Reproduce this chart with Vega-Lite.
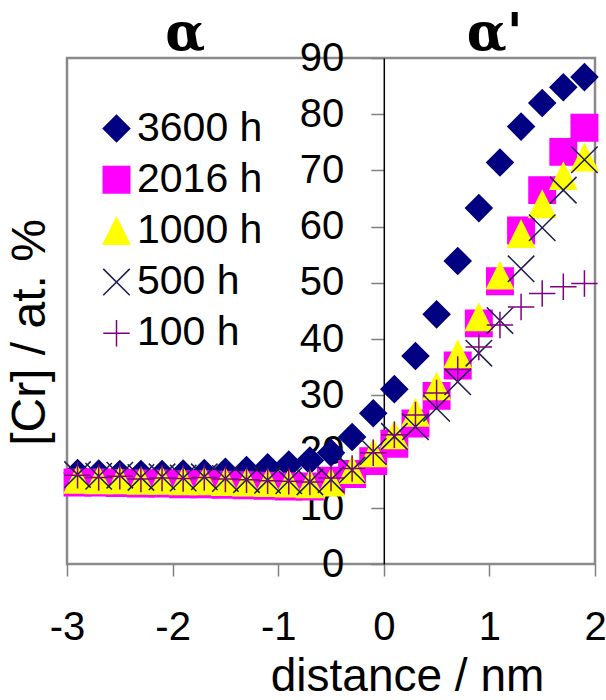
{
  "$schema": "https://vega.github.io/schema/vega-lite/v6.json",
  "width": 528,
  "height": 506,
  "autosize": {"type": "none"},
  "padding": {"left": 67, "top": 58, "right": 11, "bottom": 136},
  "background": "white",
  "config": {
    "view": {"stroke": "#8a8a8a", "strokeWidth": 2.5},
    "font": "Liberation Sans",
    "legend": {
      "orient": "none",
      "legendX": 29,
      "legendY": 50,
      "padding": 0,
      "labelFont": "Liberation Sans",
      "labelFontSize": 41,
      "labelColor": "black",
      "labelOffset": 0,
      "symbolSize": 700,
      "symbolStrokeWidth": 1.5,
      "rowPadding": 9.2,
      "labelLimit": 400
    }
  },
  "datasets": {
    "pts": [
      {"d": -2.9, "cr": 16.2, "t": "3600 h"}, {"d": -2.7, "cr": 16.1, "t": "3600 h"}, {"d": -2.5, "cr": 16.0, "t": "3600 h"}, {"d": -2.3, "cr": 16.0, "t": "3600 h"}, {"d": -2.1, "cr": 16.0, "t": "3600 h"},
      {"d": -1.9, "cr": 16.1, "t": "3600 h"}, {"d": -1.7, "cr": 16.2, "t": "3600 h"}, {"d": -1.5, "cr": 16.4, "t": "3600 h"}, {"d": -1.3, "cr": 16.7, "t": "3600 h"}, {"d": -1.1, "cr": 17.2, "t": "3600 h"},
      {"d": -0.9, "cr": 17.7, "t": "3600 h"}, {"d": -0.7, "cr": 18.4, "t": "3600 h"}, {"d": -0.5, "cr": 19.8, "t": "3600 h"}, {"d": -0.3, "cr": 22.6, "t": "3600 h"}, {"d": -0.1, "cr": 26.8, "t": "3600 h"},
      {"d": 0.1, "cr": 31.1, "t": "3600 h"}, {"d": 0.3, "cr": 37.0, "t": "3600 h"}, {"d": 0.5, "cr": 44.4, "t": "3600 h"}, {"d": 0.7, "cr": 53.9, "t": "3600 h"}, {"d": 0.9, "cr": 63.3, "t": "3600 h"},
      {"d": 1.1, "cr": 71.4, "t": "3600 h"}, {"d": 1.3, "cr": 77.8, "t": "3600 h"}, {"d": 1.5, "cr": 82.0, "t": "3600 h"}, {"d": 1.7, "cr": 84.8, "t": "3600 h"}, {"d": 1.9, "cr": 86.6, "t": "3600 h"},

      {"d": -2.9, "cr": 14.5, "t": "2016 h"}, {"d": -2.7, "cr": 14.5, "t": "2016 h"}, {"d": -2.5, "cr": 14.4, "t": "2016 h"}, {"d": -2.3, "cr": 14.3, "t": "2016 h"}, {"d": -2.1, "cr": 14.3, "t": "2016 h"},
      {"d": -1.9, "cr": 14.2, "t": "2016 h"}, {"d": -1.7, "cr": 14.2, "t": "2016 h"}, {"d": -1.5, "cr": 14.1, "t": "2016 h"}, {"d": -1.3, "cr": 14.0, "t": "2016 h"}, {"d": -1.1, "cr": 13.9, "t": "2016 h"},
      {"d": -0.9, "cr": 13.8, "t": "2016 h"}, {"d": -0.7, "cr": 13.8, "t": "2016 h"}, {"d": -0.5, "cr": 14.8, "t": "2016 h"}, {"d": -0.3, "cr": 16.0, "t": "2016 h"}, {"d": -0.1, "cr": 18.3, "t": "2016 h"},
      {"d": 0.1, "cr": 21.4, "t": "2016 h"}, {"d": 0.3, "cr": 25.0, "t": "2016 h"}, {"d": 0.5, "cr": 29.9, "t": "2016 h"}, {"d": 0.7, "cr": 35.3, "t": "2016 h"}, {"d": 0.9, "cr": 42.8, "t": "2016 h"},
      {"d": 1.1, "cr": 50.3, "t": "2016 h"}, {"d": 1.3, "cr": 59.3, "t": "2016 h"}, {"d": 1.5, "cr": 66.5, "t": "2016 h"}, {"d": 1.7, "cr": 73.3, "t": "2016 h"}, {"d": 1.9, "cr": 77.6, "t": "2016 h"},

      {"d": -2.9, "cr": 15.0, "t": "1000 h"}, {"d": -2.7, "cr": 14.9, "t": "1000 h"}, {"d": -2.5, "cr": 14.9, "t": "1000 h"}, {"d": -2.3, "cr": 14.8, "t": "1000 h"}, {"d": -2.1, "cr": 14.8, "t": "1000 h"},
      {"d": -1.9, "cr": 14.7, "t": "1000 h"}, {"d": -1.7, "cr": 14.7, "t": "1000 h"}, {"d": -1.5, "cr": 14.6, "t": "1000 h"}, {"d": -1.3, "cr": 14.5, "t": "1000 h"}, {"d": -1.1, "cr": 14.4, "t": "1000 h"},
      {"d": -0.9, "cr": 14.3, "t": "1000 h"}, {"d": -0.7, "cr": 14.2, "t": "1000 h"}, {"d": -0.5, "cr": 14.5, "t": "1000 h"}, {"d": -0.3, "cr": 16.7, "t": "1000 h"}, {"d": -0.1, "cr": 19.7, "t": "1000 h"},
      {"d": 0.1, "cr": 22.9, "t": "1000 h"}, {"d": 0.3, "cr": 26.9, "t": "1000 h"}, {"d": 0.5, "cr": 31.6, "t": "1000 h"}, {"d": 0.7, "cr": 37.3, "t": "1000 h"}, {"d": 0.9, "cr": 43.9, "t": "1000 h"},
      {"d": 1.1, "cr": 51.3, "t": "1000 h"}, {"d": 1.3, "cr": 58.7, "t": "1000 h"}, {"d": 1.5, "cr": 64.0, "t": "1000 h"}, {"d": 1.7, "cr": 69.0, "t": "1000 h"}, {"d": 1.9, "cr": 72.3, "t": "1000 h"},

      {"d": -2.9, "cr": 15.9, "t": "500 h"}, {"d": -2.7, "cr": 15.6, "t": "500 h"}, {"d": -2.5, "cr": 15.8, "t": "500 h"}, {"d": -2.3, "cr": 15.4, "t": "500 h"}, {"d": -2.1, "cr": 15.5, "t": "500 h"},
      {"d": -1.9, "cr": 15.3, "t": "500 h"}, {"d": -1.7, "cr": 15.5, "t": "500 h"}, {"d": -1.5, "cr": 15.2, "t": "500 h"}, {"d": -1.3, "cr": 15.0, "t": "500 h"}, {"d": -1.1, "cr": 14.9, "t": "500 h"},
      {"d": -0.9, "cr": 14.8, "t": "500 h"}, {"d": -0.7, "cr": 14.6, "t": "500 h"}, {"d": -0.5, "cr": 15.0, "t": "500 h"}, {"d": -0.3, "cr": 16.7, "t": "500 h"}, {"d": -0.1, "cr": 20.0, "t": "500 h"},
      {"d": 0.1, "cr": 22.7, "t": "500 h"}, {"d": 0.3, "cr": 24.4, "t": "500 h"}, {"d": 0.5, "cr": 27.7, "t": "500 h"}, {"d": 0.7, "cr": 32.4, "t": "500 h"}, {"d": 0.9, "cr": 37.5, "t": "500 h"},
      {"d": 1.1, "cr": 43.3, "t": "500 h"}, {"d": 1.3, "cr": 52.5, "t": "500 h"}, {"d": 1.5, "cr": 59.8, "t": "500 h"}, {"d": 1.7, "cr": 66.5, "t": "500 h"}, {"d": 1.9, "cr": 71.9, "t": "500 h"},

      {"d": -2.9, "cr": 15.8, "t": "100 h"}, {"d": -2.7, "cr": 15.4, "t": "100 h"}, {"d": -2.5, "cr": 15.6, "t": "100 h"}, {"d": -2.3, "cr": 15.1, "t": "100 h"}, {"d": -2.1, "cr": 15.3, "t": "100 h"},
      {"d": -1.9, "cr": 15.2, "t": "100 h"}, {"d": -1.7, "cr": 15.4, "t": "100 h"}, {"d": -1.5, "cr": 15.1, "t": "100 h"}, {"d": -1.3, "cr": 15.0, "t": "100 h"}, {"d": -1.1, "cr": 14.8, "t": "100 h"},
      {"d": -0.9, "cr": 14.7, "t": "100 h"}, {"d": -0.7, "cr": 14.6, "t": "100 h"}, {"d": -0.5, "cr": 15.3, "t": "100 h"}, {"d": -0.3, "cr": 17.0, "t": "100 h"}, {"d": -0.1, "cr": 19.8, "t": "100 h"},
      {"d": 0.1, "cr": 23.0, "t": "100 h"}, {"d": 0.3, "cr": 26.5, "t": "100 h"}, {"d": 0.5, "cr": 30.4, "t": "100 h"}, {"d": 0.7, "cr": 34.6, "t": "100 h"}, {"d": 0.9, "cr": 38.6, "t": "100 h"},
      {"d": 1.1, "cr": 42.5, "t": "100 h"}, {"d": 1.3, "cr": 45.7, "t": "100 h"}, {"d": 1.5, "cr": 48.1, "t": "100 h"}, {"d": 1.7, "cr": 49.3, "t": "100 h"}, {"d": 1.9, "cr": 49.9, "t": "100 h"}
    ],
    "phases": [
      {"d": -1.88, "cr": 91.5, "label": "α"},
      {"d": 1.05, "cr": 91.5, "label": "α'"}
    ]
  },
  "layer": [
    {
      "data": {"name": "pts"},
      "mark": {"type": "point", "filled": false, "size": 700, "strokeWidth": 1.5, "opacity": 1},
      "encoding": {
        "x": {
          "field": "d", "type": "quantitative",
          "scale": {"domain": [-3, 2], "nice": false, "zero": false},
          "axis": {
            "values": [-3, -2, -1, 0, 1, 2],
            "labelExpr": "'' + datum.value",
            "labelFontSize": 40, "labelColor": "black", "labelPadding": 31, "labelFlush": false,
            "tickSize": 12, "tickColor": "#808080", "tickWidth": 1.5,
            "domain": false, "grid": false,
            "title": "distance / nm", "titleFontSize": 46, "titleFontWeight": "normal", "titleColor": "black",
            "titleX": 340, "titleY": 126, "titleBaseline": "alphabetic", "titleAlign": "center"
          }
        },
        "y": {
          "field": "cr", "type": "quantitative",
          "scale": {"domain": [0, 90], "nice": false},
          "axis": {
            "orient": "left", "offset": -316.8,
            "values": [0, 10, 20, 30, 40, 50, 60, 70, 80, 90],
            "labelFontSize": 40, "labelColor": "black", "labelPadding": 27, "labelFlush": false, "labelOverlap": false,
            "tickSize": 13, "tickColor": "#808080", "tickWidth": 1.5,
            "domainColor": "black", "domainWidth": 1.5, "grid": false,
            "title": "[Cr] / at. %", "titleFontSize": 48, "titleFontWeight": "normal", "titleColor": "black",
            "titleX": -353, "titleY": 274, "titleAngle": 270, "titleBaseline": "middle", "titleAlign": "center"
          }
        },
        "shape": {
          "field": "t", "type": "nominal",
          "scale": {"domain": ["3600 h", "2016 h", "1000 h", "500 h", "100 h"],
                    "range": ["diamond", "square", "M0,-1L1,1L-1,1Z", "M-1,-1L1,1M-1,1L1,-1", "M-1,0L1,0M0,-1L0,1"]},
          "legend": {"title": null}
        },
        "fill": {
          "field": "t", "type": "nominal",
          "scale": {"domain": ["3600 h", "2016 h", "1000 h", "500 h", "100 h"],
                    "range": ["#000080", "#ff00ff", "#ffff00", "transparent", "transparent"]},
          "legend": {"title": null}
        },
        "stroke": {
          "field": "t", "type": "nominal",
          "scale": {"domain": ["3600 h", "2016 h", "1000 h", "500 h", "100 h"],
                    "range": ["#000080", "#ff00ff", "#ffff00", "#1c1c50", "#800080"]},
          "legend": {"title": null}
        }
      }
    },
    {
      "data": {"name": "phases"},
      "mark": {"type": "text", "font": "DejaVu Serif", "fontSize": 52, "fontWeight": "bold", "baseline": "alphabetic", "align": "center", "color": "black"},
      "encoding": {
        "x": {"field": "d", "type": "quantitative"},
        "y": {"field": "cr", "type": "quantitative"},
        "text": {"field": "label", "type": "nominal"}
      }
    }
  ]
}
